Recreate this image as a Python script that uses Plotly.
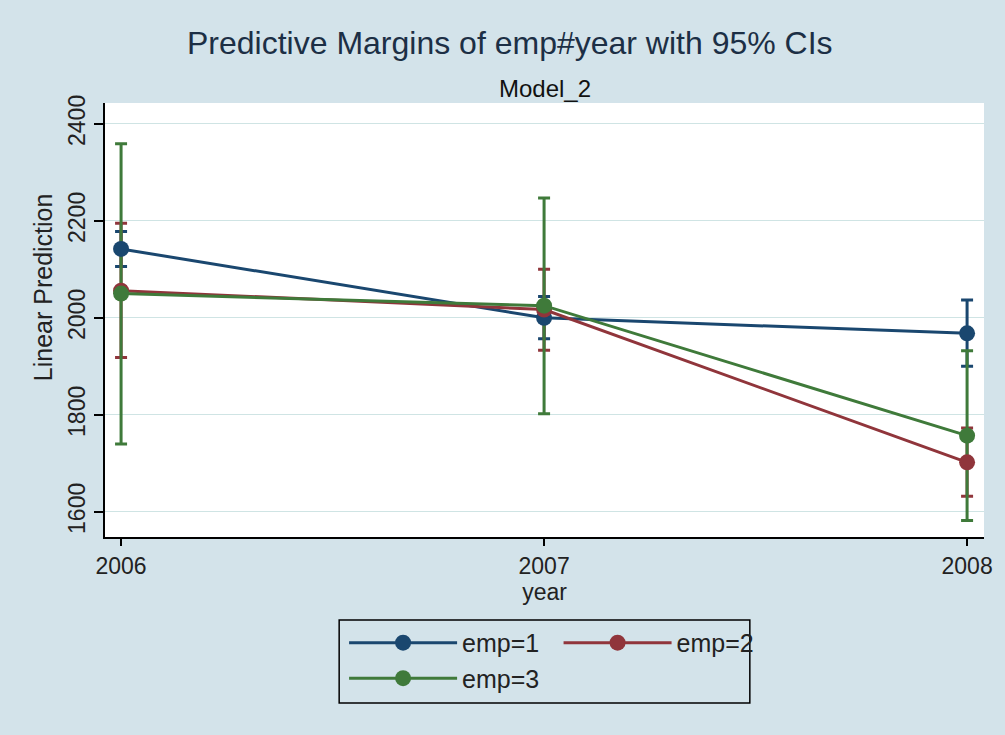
import plotly.graph_objects as go

years = [2006, 2007, 2008]
series_names = ["emp=1", "emp=2", "emp=3"]
emp1 = [2142, 2000, 1968]
emp1_lo = [2106, 1957, 1900]
emp1_hi = [2178, 2044, 2037]
emp2 = [2056, 2017, 1702]
emp2_lo = [1918, 1933, 1632]
emp2_hi = [2195, 2100, 1773]
emp3 = [2050, 2025, 1757]
emp3_lo = [1740, 1802, 1582]
emp3_hi = [2359, 2247, 1932]
y_ticks = [1600, 1800, 2000, 2200, 2400]

colors = ["#1a476f", "#90353b", "#3f7a3a"]
means = [emp1, emp2, emp3]
los = [emp1_lo, emp2_lo, emp3_lo]
his = [emp1_hi, emp2_hi, emp3_hi]

FONT = "Liberation Sans, Arial, sans-serif"
BG = "#d3e3ea"

fig = go.Figure()

# confidence intervals (drawn beneath lines and markers)
for m, lo, hi, c in zip(means, los, his, colors):
    fig.add_trace(go.Scatter(
        x=years, y=m, mode="markers",
        marker=dict(size=1, color="rgba(0,0,0,0)"),
        error_y=dict(type="data", symmetric=False,
                     array=[h - v for h, v in zip(hi, m)],
                     arrayminus=[v - l for l, v in zip(lo, m)],
                     color=c, thickness=3, width=6),
        showlegend=False, hoverinfo="skip"))

legends = ["legend", "legend2", "legend"]
for name, m, c, lg in zip(series_names, means, colors, legends):
    fig.add_trace(go.Scatter(
        x=years, y=m, mode="lines+markers", name=name,
        line=dict(color=c, width=3),
        marker=dict(size=16, color=c),
        legend=lg))

fig.update_layout(
    width=1005, height=735,
    paper_bgcolor=BG, plot_bgcolor="white",
    margin=dict(l=105, r=18, t=103, b=198),
    font=dict(family=FONT, size=23, color="#222222"),
    xaxis=dict(range=[2005.962, 2008.04], tickvals=years, ticktext=[str(y) for y in years],
               showgrid=False, zeroline=False, showline=True, linecolor="black", linewidth=2,
               ticks="outside", ticklen=7, tickwidth=2, tickcolor="black",
               tickfont=dict(size=23, color="#222222"),
               title=dict(text="year", font=dict(size=23, color="#222222"), standoff=2)),
    yaxis=dict(range=[1548, 2443], tickvals=y_ticks, showgrid=True, gridcolor="#cfe4e4", gridwidth=1,
               zeroline=False, showline=True, linecolor="black", linewidth=2,
               ticks="outside", ticklen=9, tickwidth=2, tickcolor="black", tickangle=-90,
               tickfont=dict(size=23, color="#222222")),
    legend=dict(x=0.272, y=-0.191, xanchor="left", yanchor="top", bgcolor="rgba(0,0,0,0)",
                borderwidth=0, font=dict(size=25, color="#222222"), itemwidth=108,
                tracegroupgap=0),
    legend2=dict(x=0.516, y=-0.191, xanchor="left", yanchor="top", bgcolor="rgba(0,0,0,0)",
                 borderwidth=0, font=dict(size=25, color="#222222"), itemwidth=108),
    shapes=[dict(type="rect", xref="paper", yref="paper", x0=0.2664, x1=0.7336,
                 y0=-0.3825, y1=-0.1912, line=dict(color="black", width=1.5))],
    annotations=[
        dict(text="Predictive Margins of emp#year with 95% CIs", xref="paper", yref="paper",
             x=(511 - 105) / 882, y=(537 - 43) / 434, xanchor="center", yanchor="middle",
             showarrow=False, font=dict(size=32, color="#1c2f45")),
        dict(text="Model_2", xref="paper", yref="paper",
             x=0.5, y=(537 - 88) / 434, xanchor="center", yanchor="middle",
             showarrow=False, font=dict(size=24, color="#111111")),
        dict(text="Linear Prediction", xref="paper", yref="paper", textangle=-90,
             x=(43 - 105) / 882, y=(537 - 287) / 434, xanchor="center", yanchor="middle",
             showarrow=False, font=dict(size=25, color="#222222")),
    ],
)

fig.write_html("out.html")
